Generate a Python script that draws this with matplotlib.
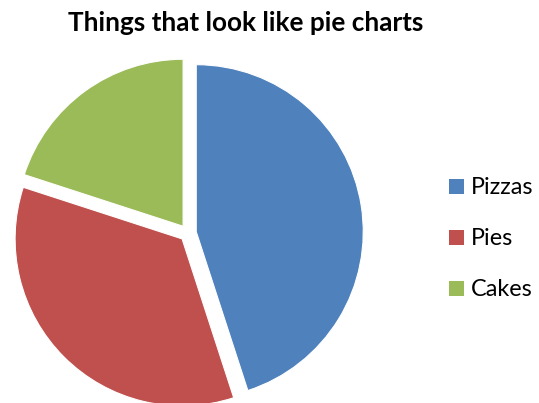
import matplotlib
matplotlib.use("Agg")
import matplotlib.pyplot as plt
from matplotlib.patches import Rectangle

categories = ["Pizzas", "Pies", "Cakes"]
shares = [45, 35, 20]
colors = ["#4F81BD", "#C0504D", "#9BBB59"]

plt.rcParams['font.family'] = ['Lato', 'DejaVu Sans']

W, H = 539, 403
fig = plt.figure(figsize=(W / 100, H / 100), dpi=100)
ax = fig.add_axes([0, 0, 1, 1])

# pie centre and radius in pixels
cx, cy, r = 188, 233, 167

ax.pie(shares, colors=colors, startangle=90, counterclock=False,
       explode=[0.05] * len(shares), radius=1,
       wedgeprops=dict(linewidth=0.8, edgecolor="white"))
ax.set_xlim(-cx / r, (W - cx) / r)
ax.set_ylim(-(H - cy) / r, cy / r)
ax.set_aspect("equal")
ax.axis("off")

fig.text(246 / W, 1 - 23 / H, "Things that look like pie charts",
         ha="center", va="center", fontsize=18.8, fontweight="bold")

# legend, drawn by hand so the swatches sit where they should
for i, (name, c) in enumerate(zip(categories, colors)):
    yc = 187 + i * 50.5
    fig.patches.append(Rectangle((449 / W, 1 - (yc + 7.5) / H), 15 / W, 15 / H,
                                 transform=fig.transFigure, facecolor=c,
                                 edgecolor="none"))
    fig.text(471 / W, 1 - (yc + 1) / H, name, ha="left", va="center",
             fontsize=16.8)

fig.savefig("out.png", dpi=100)
